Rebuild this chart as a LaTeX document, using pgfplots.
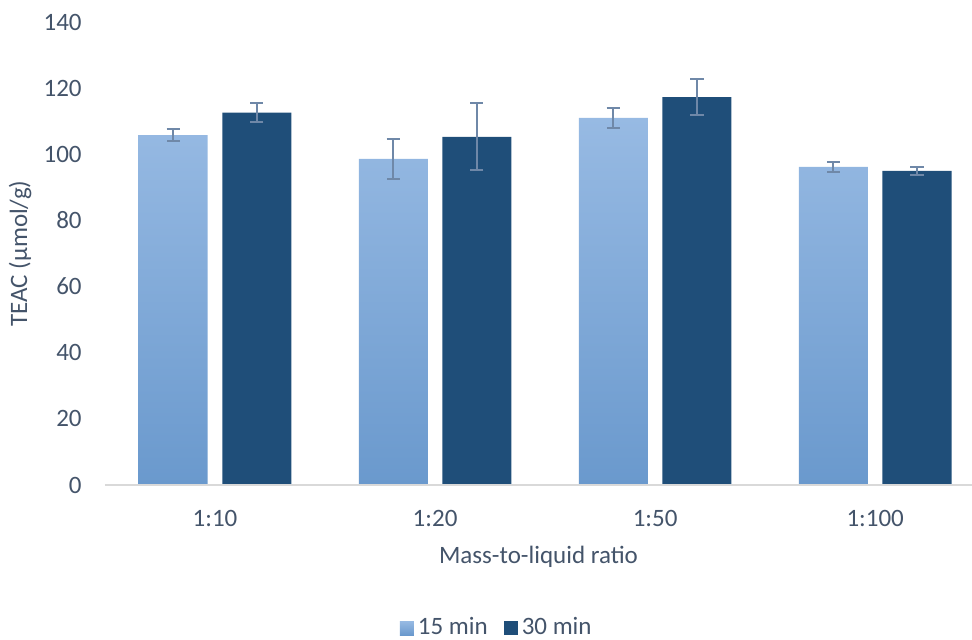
\documentclass[border=0pt]{standalone}
\usepackage{pgfplots}
\pgfplotsset{compat=1.18}
\usepackage{fontspec}
\setmainfont{Carlito}
\definecolor{txt}{HTML}{44546A}
\definecolor{lighttop}{HTML}{97BAE3}
\definecolor{lightbot}{HTML}{6A99CD}
\definecolor{dark}{HTML}{1F4E79}
\definecolor{errc}{HTML}{6F88A8}
\definecolor{axc}{HTML}{D9D9D9}
\pgfplotsset{sqlegend/.style={legend image code/.code={\path[##1, draw=none] (0pt,-3.5pt) rectangle (7pt,3.5pt);}}}
\begin{document}
\begin{tikzpicture}
\fontsize{12.5}{15}\selectfont
\begin{axis}[
  scale only axis,
  width=433.5pt, height=231.5pt,
  xmin=-0.5, xmax=3.44,
  ymin=0, ymax=140,
  ytick={0,20,...,140},
  xtick={0,1,2,3},
  xticklabels={1:10,1:20,1:50,1:100},
  axis lines*=left,
  axis line style={draw=none},
  major tick length=0pt,
  /pgf/number format/assume math mode=true,
  tick label style={font=\fontsize{12.5}{15}\selectfont, text=txt, inner sep=0pt},
  yticklabel style={anchor=east, xshift=-11.5pt},
  xticklabel style={anchor=north, yshift=-12.5pt},
  every axis y label/.style={at={(axis description cs:-0.098,0.5)}, anchor=center, rotate=90},
  every axis x label/.style={at={(axis description cs:0.5,-0.1555)}, anchor=center},
  label style={font=\fontsize{12.5}{15}\selectfont, text=txt},
  ylabel={TEAC (µmol/g)},
  xlabel={Mass-to-liquid ratio},
  legend style={at={(axis description cs:0.453,-0.309)}, anchor=center, draw=none, fill=none,
    legend columns=2, font=\fontsize{12.5}{15}\selectfont, text=txt,
    /tikz/every even column/.append style={column sep=6pt}},
  ybar, bar width=0.3136,
  clip=false,
]
\addplot[ybar, bar shift=-0.19, draw=none, top color=lighttop, bottom color=lightbot,
  error bars/.cd, y dir=both, y explicit,
  error bar style={color=errc, line width=1pt},
  error mark options={rotate=90, mark size=3.3pt, line width=1pt, color=errc},
  /pgfplots/.cd, sqlegend]
  coordinates {(0,105.8) +- (0,1.8) (1,98.6) +- (0,6.0) (2,111.0) +- (0,3.0) (3,96.2) +- (0,1.5)};
\addplot[ybar, bar shift=0.19, draw=none, fill=dark,
  error bars/.cd, y dir=both, y explicit,
  error bar style={color=errc, line width=1pt},
  error mark options={rotate=90, mark size=3.3pt, line width=1pt, color=errc},
  /pgfplots/.cd, sqlegend]
  coordinates {(0,112.6) +- (0,2.9) (1,105.3) +- (0,10.1) (2,117.3) +- (0,5.4) (3,95.0) +- (0,1.2)};
\legend{15 min, 30 min}
\draw[axc, line width=1pt] (axis cs:-0.5,0) -- (axis cs:3.44,0);
\end{axis}
\pgfresetboundingbox
\path[use as bounding box] ([xshift=-52.5pt,yshift=-77pt]current axis.south west) rectangle ([yshift=11pt]current axis.north east);
\end{tikzpicture}
\end{document}
